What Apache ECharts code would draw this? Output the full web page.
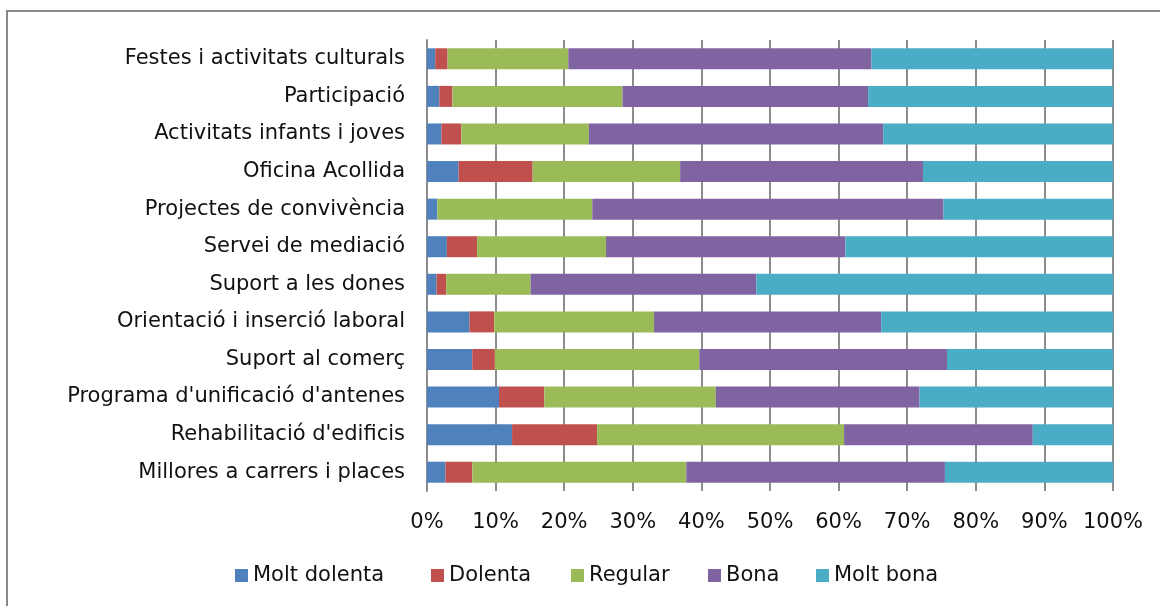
<!DOCTYPE html>
<html>
<head>
<meta charset="utf-8">
<script src="https://cdn.jsdelivr.net/npm/echarts@6/dist/echarts.min.js"></script>
<style>
  html, body { margin: 0; padding: 0; background: #fff; }
  #chart { width: 1160px; height: 606px; }
</style>
</head>
<body>
<div id="chart"></div>
<script>
// categories, bottom to top as echarts draws them
const categories = [
  'Millores a carrers i places',
  "Rehabilitació d'edificis",
  "Programa d'unificació d'antenes",
  'Suport al comerç',
  'Orientació i inserció laboral',
  'Suport a les dones',
  'Servei de mediació',
  'Projectes de convivència',
  'Oficina Acollida',
  'Activitats infants i joves',
  'Participació',
  'Festes i activitats culturals'
];

const seriesNames = ['Molt dolenta', 'Dolenta', 'Regular', 'Bona', 'Molt bona'];
const seriesColors = ['#4F81BD', '#C0504D', '#9BBB59', '#8064A2', '#4BACC6'];

// percentages, same order as categories
const moltDolenta = [2.7, 12.4, 10.5, 6.6, 6.2, 1.4, 2.9, 1.5, 4.6, 2.1, 1.8, 1.2];
const dolenta     = [3.9, 12.4, 6.6, 3.3, 3.6, 1.4, 4.4, 0, 10.8, 2.9, 1.9, 1.8];
const regular     = [31.2, 36.0, 25.0, 29.8, 23.3, 12.3, 18.8, 22.6, 21.5, 18.6, 24.8, 17.6];
const bona        = [37.7, 27.5, 29.7, 36.1, 33.1, 32.9, 34.9, 51.2, 35.4, 42.9, 35.8, 44.2];
const moltBona    = [24.5, 11.7, 28.2, 24.2, 33.8, 52.0, 39.0, 24.7, 27.7, 33.5, 35.7, 35.2];

const seriesData = [moltDolenta, dolenta, regular, bona, moltBona];

// where each legend entry starts (Excel spaces them by its own font widths)
const legendLeft = [235, 431, 571, 708, 816];

const font = 'DejaVu Sans';
const fontSize = 21;

const chart = echarts.init(document.getElementById('chart'));

const option = {
  animation: false,
  backgroundColor: '#fff',
  textStyle: { fontFamily: font },
  graphic: [
    {
      type: 'rect',
      shape: { x: 7, y: 11, width: 1300, height: 800 },
      style: { fill: 'none', stroke: '#8a8a8a', lineWidth: 2 },
      silent: true
    }
  ],
  grid: {
    left: 427,
    right: 47,
    top: 40,
    bottom: 115
  },
  legend: seriesNames.map((name, i) => ({
    bottom: 20,
    left: legendLeft[i],
    padding: 0,
    itemWidth: 13,
    itemHeight: 13,
    itemGap: 0,
    icon: 'rect',
    textStyle: { fontFamily: font, fontSize: fontSize, color: '#111' },
    data: [name]
  })),
  xAxis: {
    type: 'value',
    min: 0,
    max: 100,
    interval: 10,
    axisLine: { show: false },
    axisTick: { show: false },
    splitLine: { show: true, lineStyle: { color: '#8c8c8c', width: 2 } },
    axisLabel: {
      formatter: '{value}%',
      fontFamily: font,
      fontSize: fontSize,
      color: '#111',
      margin: 21
    }
  },
  yAxis: {
    type: 'category',
    data: categories,
    axisLine: { show: true, lineStyle: { color: '#8c8c8c', width: 2 } },
    axisTick: { show: false },
    axisLabel: {
      fontFamily: font,
      fontSize: fontSize,
      color: '#111',
      margin: 22
    }
  },
  series: seriesNames.map((name, i) => ({
    name: name,
    type: 'bar',
    stack: 'total',
    barWidth: 21,
    itemStyle: { color: seriesColors[i] },
    data: seriesData[i]
  }))
};

chart.setOption(option);
</script>
</body>
</html>
